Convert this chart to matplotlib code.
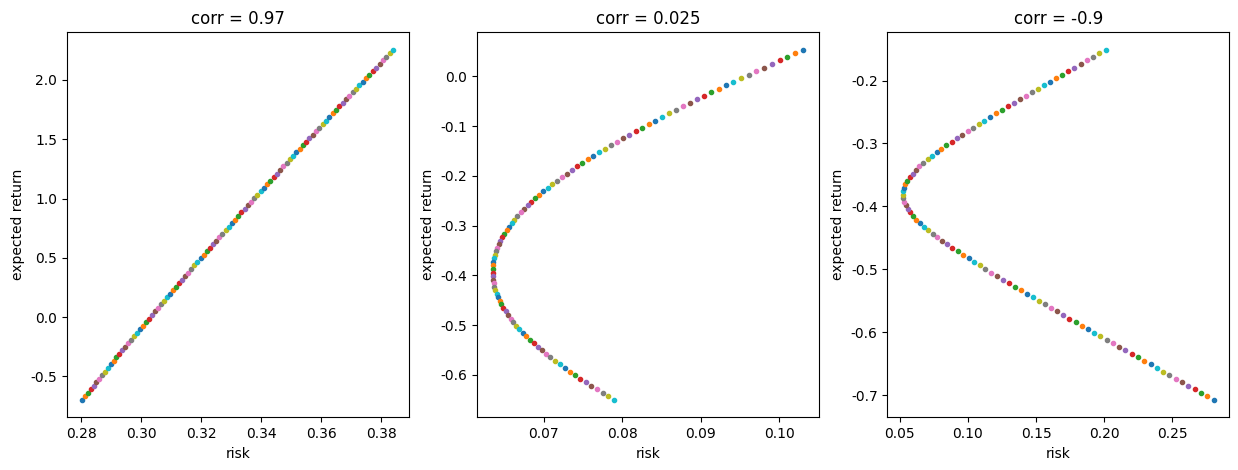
import matplotlib
matplotlib.use("Agg")
import matplotlib.pyplot as plt
import numpy as np

# two assets per panel: (expected return, risk) of the first and the last portfolio
corrs = [0.97, 0.025, -0.9]
titles = ["corr = 0.97", "corr = 0.025", "corr = -0.9"]
start_return = [-0.697, 0.053, -0.7073]
start_risk = [0.2804, 0.1031, 0.2803]
end_return = [2.254, -0.650, -0.1512]
end_risk = [0.3839, 0.0790, 0.2009]
n_portfolios = 100

# tick labels use a plain hyphen for negatives
plt.rcParams['axes.unicode_minus'] = False

fig = plt.figure(figsize=(12.38, 4.70), dpi=100)

lefts = [0.0539, 0.3853, 0.7168]
for i in range(3):
    ax = fig.add_axes([lefts[i], 0.1121, 0.2762, 0.8191])

    # weight on the first asset goes from 1 to 0
    w = np.linspace(1, 0, n_portfolios)
    r1, r2 = start_return[i], end_return[i]
    s1, s2 = start_risk[i], end_risk[i]
    rho = corrs[i]

    ret = w * r1 + (1 - w) * r2
    risk = np.sqrt(w**2 * s1**2 + (1 - w)**2 * s2**2 + 2 * w * (1 - w) * rho * s1 * s2)

    # one plot call per portfolio so the colours cycle
    for x, y in zip(risk, ret):
        ax.plot(x, y, '.')

    ax.set_title(titles[i])
    ax.set_xlabel("risk")
    ax.set_ylabel("expected return")

fig.savefig("out.png", dpi=100)
